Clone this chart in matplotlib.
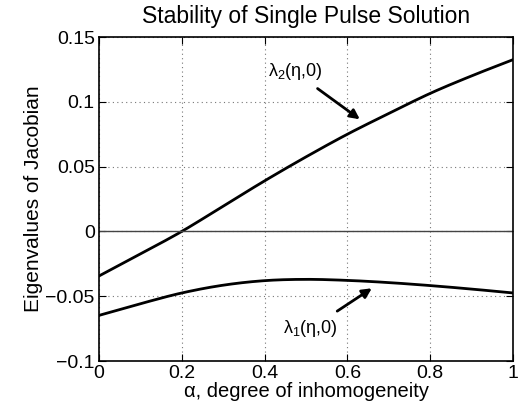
import numpy as np
import matplotlib.pyplot as plt

plt.rcParams['font.family'] = ['Liberation Sans', 'DejaVu Sans']

# values
alpha = [0.0, 0.1, 0.2, 0.3, 0.4, 0.5, 0.6, 0.7, 0.8, 0.9, 1.0]
lam2 = [-0.0344, -0.0174, 0.0, 0.0195, 0.039, 0.0575, 0.075, 0.091, 0.1065, 0.120, 0.1325]
lam1 = [-0.0648, -0.0558, -0.0475, -0.0415, -0.038, -0.037, -0.0378, -0.0395, -0.0418, -0.0445, -0.0475]


def smooth(x, y, n=20):
    # cubic hermite through the read points
    x = np.asarray(x)
    y = np.asarray(y)
    m = np.gradient(y, x)
    xo, yo = [], []
    for i in range(len(x) - 1):
        h = x[i + 1] - x[i]
        t = np.linspace(0, 1, n, endpoint=False)
        h00 = 2*t**3 - 3*t**2 + 1
        h10 = t**3 - 2*t**2 + t
        h01 = -2*t**3 + 3*t**2
        h11 = t**3 - t**2
        xo.append(x[i] + t*h)
        yo.append(h00*y[i] + h10*h*m[i] + h01*y[i + 1] + h11*h*m[i + 1])
    xo.append([x[-1]])
    yo.append([y[-1]])
    return np.concatenate(xo), np.concatenate(yo)


fig = plt.figure(figsize=(5.25, 4.18), dpi=100)
ax = fig.add_axes([99/525, 1-361/418, 414/525, 324/418])

ax.plot(*smooth(alpha, lam2), color='black', lw=2)
ax.plot(*smooth(alpha, lam1), color='black', lw=2)
ax.axhline(0, color='#444444', lw=1.0)

ax.set_xlim(0, 1)
ax.set_ylim(-0.1, 0.15)
ax.set_xticks([0, 0.2, 0.4, 0.6, 0.8, 1])
ax.set_xticklabels(['0', '0.2', '0.4', '0.6', '0.8', '1'])
ax.set_yticks([-0.1, -0.05, 0, 0.05, 0.1, 0.15])
ax.set_yticklabels(['\u22120.1', '\u22120.05', '0', '0.05', '0.1', '0.15'])
ax.tick_params(direction='in', top=True, right=True, labelsize=14, length=5, pad=3)
ax.grid(True, linestyle=(0, (1, 3)), color='#777777', lw=0.8)
for s in ax.spines.values():
    s.set_linewidth(1.2)

ax.set_title('Stability of Single Pulse Solution', fontsize=16.5, pad=10)
ax.set_xlabel('\u03b1, degree of inhomogeneity', fontsize=14.5, labelpad=0)
ax.set_ylabel('Eigenvalues of Jacobian', fontsize=15, labelpad=2)

ax.annotate('$\\mathregular{\\lambda_2}$(\u03b7,0)', xy=(0.630, 0.0865), xytext=(0.473, 0.123),
            ha='center', va='center', fontsize=13,
            arrowprops=dict(arrowstyle='-|>', color='black', lw=2, shrinkA=4, shrinkB=0,
                            mutation_scale=14))
ax.annotate('$\\mathregular{\\lambda_1}$(\u03b7,0)', xy=(0.659, -0.0439), xytext=(0.510, -0.0753),
            ha='center', va='center', fontsize=13,
            arrowprops=dict(arrowstyle='-|>', color='black', lw=2, shrinkA=6, shrinkB=0,
                            mutation_scale=14))

fig.savefig('out.png', dpi=100)
